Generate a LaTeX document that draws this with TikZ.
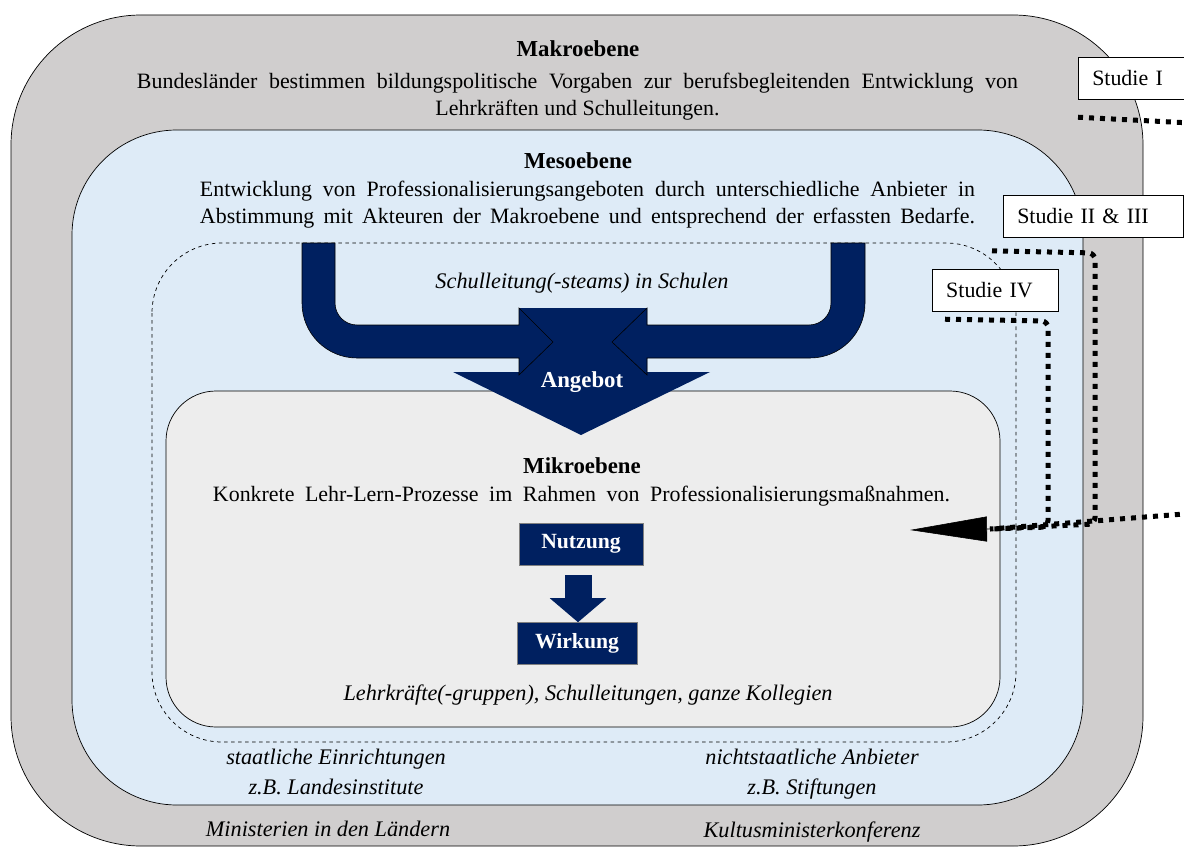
\documentclass[tikz,border=0pt]{standalone}
\usepackage{fontspec}
\setmainfont{Liberation Serif}
\usetikzlibrary{arrows.meta, calc, positioning}
\definecolor{makrograu}{HTML}{D0CECE}
\definecolor{mesoblau}{HTML}{DEEBF7}
\definecolor{mikrograu}{HTML}{EDEDED}
\definecolor{dunkelblau}{HTML}{002060}

\begin{document}
\begin{tikzpicture}[x=0.03cm, y=-0.03cm,
  txt/.style={font=\fontsize{18.7}{23}\selectfont, inner sep=0pt, align=center},
  titel/.style={txt, font=\fontsize{19.5}{23}\selectfont\bfseries},
  kursiv/.style={txt, font=\fontsize{19}{23}\selectfont\itshape},
  blockbox/.style={draw=black!50, fill=dunkelblau, text=white, font=\fontsize{18.5}{23}\selectfont\bfseries, minimum height=1.26cm, inner sep=0pt},
  studbox/.style={draw, fill=white, font=\fontsize{18.7}{23}\selectfont, anchor=west, minimum height=1.26cm, inner xsep=0.42cm, align=left},
  pfeilform/.style={fill=dunkelblau, draw=black, line width=0.5pt},
  punkte/.style={line width=0.15cm, dash pattern=on 0.15cm off 0.18cm, rounded corners=0.2cm}]
  \fill[white] (0,0) rectangle (1184,847);
  \useasboundingbox (0,0) rectangle (1184,847);
  \clip (0,0) rectangle (1184,847);

  \draw[fill=makrograu, line width=0.6pt, rounded corners=3.9cm] (11,15) rectangle (1143,846);
  \draw[fill=mesoblau, line width=0.6pt, rounded corners=3.15cm] (72,130) rectangle (1083,805);
  \draw[dashed, line width=0.6pt, rounded corners=2.1cm] (152,243) rectangle (1016,742);
  \draw[fill=mikrograu, line width=0.6pt, rounded corners=1.5cm] (166,391) rectangle (1000,727);

  \node[titel] (makro) at (578,49) {Makroebene};
  \node[txt] (makrotext) at (577.5,97) {\makebox[26.43cm][s]{Bundesländer bestimmen bildungspolitische Vorgaben zur berufsbegleitenden Entwicklung von}\\Lehrkräften und Schulleitungen.};
  \node[titel] (meso) at (578,161) {Mesoebene};
  \node[txt] (mesotext) at (587.5,205) {\makebox[23.25cm][s]{Entwicklung von Professionalisierungsangeboten durch unterschiedliche Anbieter in}\\\makebox[23.25cm][s]{Abstimmung mit Akteuren der Makroebene und entsprechend der erfassten Bedarfe.}};
  \node[kursiv] (schule) at (582,283) {Schulleitung(-steams) in Schulen};

  \fill[dunkelblau] (519,308) -- (647,308) -- (647,372) -- (710,372) -- (581,435) -- (453,372) -- (519,372) -- cycle;
  \filldraw[pfeilform] (302,243) -- (302,303) arc[start angle=180, end angle=90, radius=55] -- (519,358) -- (519,375) -- (553,342) -- (519,308) -- (519,325) -- (357,325) arc[start angle=90, end angle=180, radius=22] -- (335,243) -- cycle;
  \filldraw[pfeilform] (865,243) -- (865,303) arc[start angle=0, end angle=90, radius=55] -- (647,358) -- (647,375) -- (612,342) -- (647,308) -- (647,325) -- (809,325) arc[start angle=90, end angle=0, radius=22] -- (831,243) -- cycle;
  \node[titel, text=white] (angebot) at (582,382) {Angebot};

  \node[titel] (mikro) at (582,466) {Mikroebene};
  \node[txt] (mikrotext) at (581.5,496) {\makebox[22.11cm][s]{Konkrete Lehr-Lern-Prozesse im Rahmen von Professionalisierungsmaßnahmen.}};
  \node[blockbox, minimum width=3.72cm] (nutzung) at (581,544) {Nutzung};
  \node[blockbox, minimum width=3.6cm, below=1.71cm of nutzung, xshift=-0.12cm] (wirkung) {Wirkung};
  \draw[dunkelblau, line width=0.81cm, -{Triangle[length=0.72cm, width=1.65cm]}] ($(nutzung.south)+(-3,10)$) -- ($(wirkung.north)+(1,0)$);
  \node[kursiv] (lehrkraefte) at (588,695) {Lehrkräfte(-gruppen), Schulleitungen, ganze Kollegien};

  \node[kursiv] (staatl) at (336,772) {staatliche Einrichtungen\\[2pt]z.B. Landesinstitute};
  \node[kursiv] (nichtstaatl) at (812,774) {nichtstaatliche Anbieter\\[2pt]z.B. Stiftungen};
  \node[kursiv] (ministerien) at (328,829) {Ministerien in den Ländern};
  \node[kursiv] (kmk) at (812,832) {Kultusministerkonferenz};

  \node[studbox, text width=3cm] (studI) at (1078,78) {Studie I};
  \node[studbox, text width=4.56cm] (studII) at (1003,216) {Studie II \& III};
  \node[studbox, text width=2.94cm] (studIV) at (932,290) {Studie IV};
  \coordinate (knick) at (990,529);
  \coordinate (ziel) at (910,530);

  \draw[punkte] ($(studI.south west)+(0,18)$) -- (1230,125) -- (1230,511) -- (1184,514) -- (knick);
  \draw[punkte] ($(studII.north west)+(-11,56)$) -- (1095,253) -- (1095,524) -- (knick);
  \draw[punkte] ($(studIV.south west)+(13,8)$) -- (1048,321) -- (1048,527) -- (knick);
  \draw[line width=0.5pt, -{Triangle[length=2.31cm, width=0.75cm]}] (knick) -- (ziel);
\end{tikzpicture}
\end{document}
